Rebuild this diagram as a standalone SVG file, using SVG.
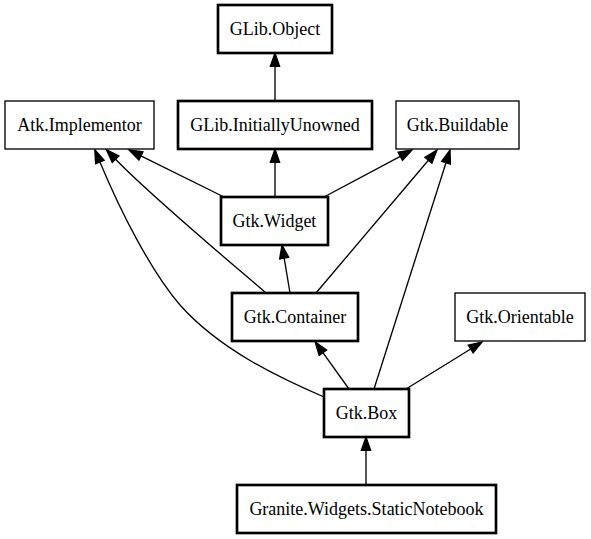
<svg xmlns="http://www.w3.org/2000/svg" width="591" height="539" viewBox="0 0 591 539">
<style>
.n rect{fill:#fff;stroke:#000}
.b rect{stroke-width:2.67}
.i rect{stroke-width:1.33}
.n text{font-family:"Liberation Serif","Times New Roman",serif;font-size:18px;text-anchor:middle;fill:#000}
.e path{fill:none;stroke:#000;stroke-width:1.33;marker-end:url(#ah)}
</style>
<defs>
<marker id="ah" markerUnits="userSpaceOnUse" markerWidth="16" markerHeight="12" refX="0" refY="5" orient="auto" overflow="visible">
<path d="M0,0.4 L13.3,5 L0,9.6 Z" fill="#000" stroke="#000" stroke-width="1.33"/>
</marker>
</defs>
<rect width="591" height="539" fill="#fff"/>
<g id="edges" class="e">
<path d="M275,101 L275,66.3"/>
<path d="M275,197 L275,162.3"/>
<path d="M224,197 L140.9,155.9"/>
<path d="M324,197 L400.3,156.3"/>
<path d="M290,293 L284.2,258.1"/>
<path d="M266,293 C230,262 150,195 115.6,159.2"/>
<path d="M316,293 L428.4,160.2"/>
<path d="M324,397 C280,378 220,350 180,305 C150,270 120,210 99.9,161.9"/>
<path d="M349,389 L322.9,352.7"/>
<path d="M374,389 L446,162.7"/>
<path d="M406,389 L470.7,349"/>
<path d="M366,485 L366,450.3"/>
</g>
<g id="GLib.Object" class="n b"><rect x="218" y="5" width="114" height="48"/><text x="275" y="34.5">GLib.Object</text></g>
<g id="Atk.Implementor" class="n i"><rect x="5" y="101" width="149" height="48"/><text x="79.5" y="130.5">Atk.Implementor</text></g>
<g id="GLib.InitiallyUnowned" class="n b"><rect x="178" y="101" width="194" height="48"/><text x="275" y="130.5">GLib.InitiallyUnowned</text></g>
<g id="Gtk.Buildable" class="n i"><rect x="396" y="101" width="123" height="48"/><text x="457.5" y="130.5">Gtk.Buildable</text></g>
<g id="Gtk.Widget" class="n b"><rect x="221" y="197" width="107" height="48"/><text x="274.5" y="226.5">Gtk.Widget</text></g>
<g id="Gtk.Container" class="n b"><rect x="232" y="293" width="126" height="48"/><text x="295" y="322.5">Gtk.Container</text></g>
<g id="Gtk.Orientable" class="n i"><rect x="455" y="293" width="130" height="48"/><text x="520" y="322.5">Gtk.Orientable</text></g>
<g id="Gtk.Box" class="n b"><rect x="324" y="389" width="85" height="48"/><text x="366.5" y="418.5">Gtk.Box</text></g>
<g id="Granite.Widgets.StaticNotebook" class="n b"><rect x="237" y="485" width="259" height="48"/><text x="366.5" y="514.5">Granite.Widgets.StaticNotebook</text></g>
</svg>
